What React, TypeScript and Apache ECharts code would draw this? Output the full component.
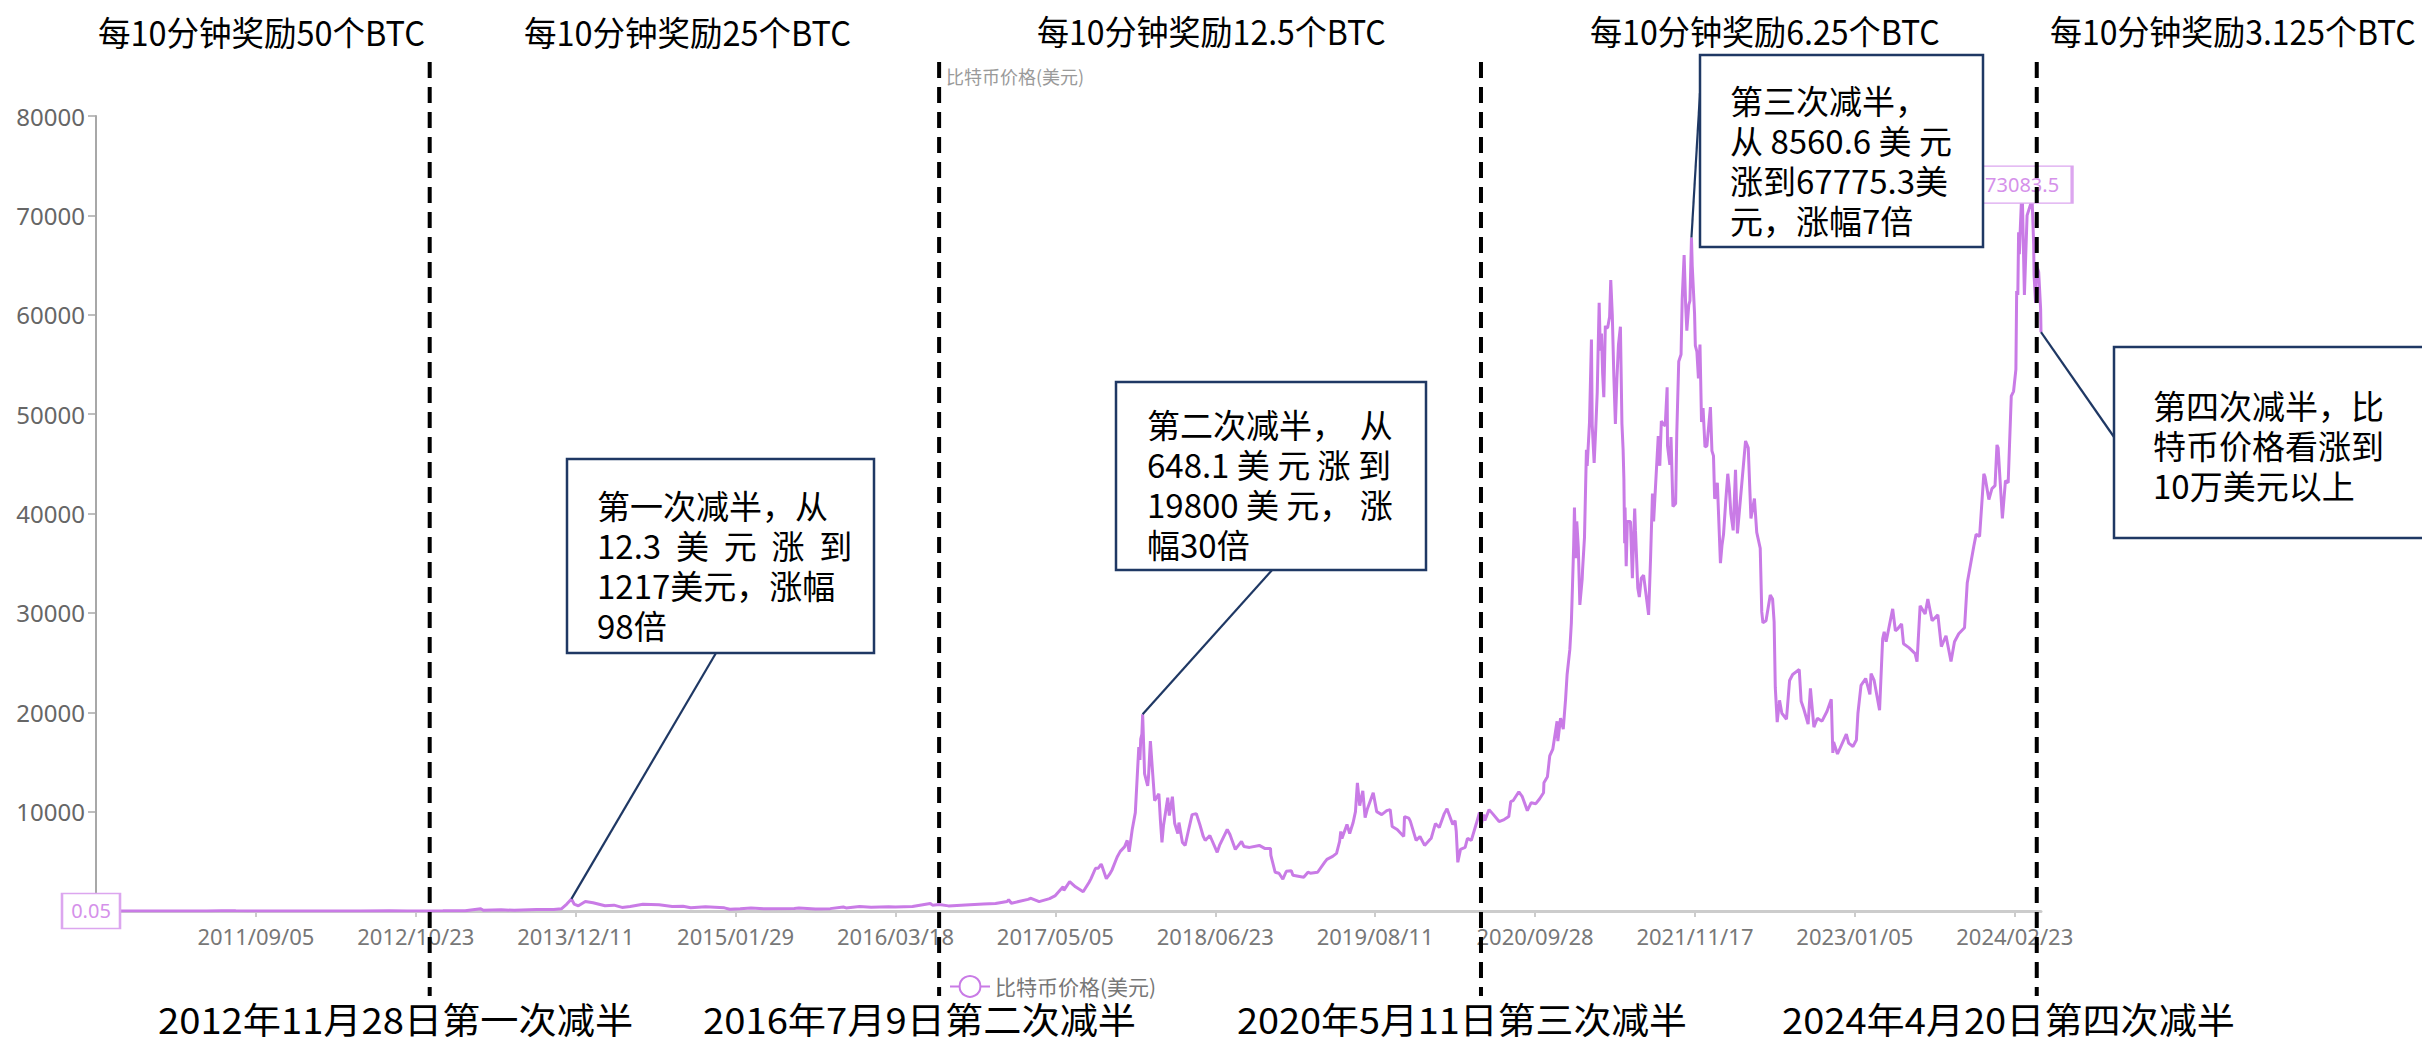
import React, { useEffect, useRef } from 'react';
import * as echarts from 'echarts';

// ---------- data ----------
const START_DATE = '2010/07/18';
const END_DATE = '2024/05/01';
const SERIES_NAME = '比特币价格(美元)';
// quirks of the source's daily date list (one day listed twice, one day absent)
const repeatedDays = ['2016/10/10'];
const skippedDays = ['2021/03/28'];

const prices2010to2013: [string, number][] = [
  ['2010/07/18', 0.05], ['2010/09/15', 0.06], ['2010/11/06', 0.39], ['2010/12/31', 0.3],
  ['2011/02/10', 1.05], ['2011/04/30', 3.5], ['2011/06/08', 29.6], ['2011/07/15', 13.8],
  ['2011/08/20', 11], ['2011/10/20', 2.3], ['2011/11/18', 2.1], ['2012/01/08', 7.1],
  ['2012/03/01', 4.9], ['2012/06/01', 5.3], ['2012/08/16', 13.5], ['2012/10/01', 12.4],
  ['2012/11/28', 12.3], ['2013/01/01', 13.5], ['2013/02/28', 33], ['2013/04/09', 230],
  ['2013/04/16', 68], ['2013/06/01', 129], ['2013/07/05', 68], ['2013/09/01', 145],
  ['2013/10/15', 150], ['2013/11/04', 225], ['2013/11/18', 703], ['2013/11/30', 1217],
  ['2013/12/07', 700], ['2013/12/18', 520],
];

const prices2014to2016: [string, number][] = [
  ['2014/01/05', 950], ['2014/01/25', 830], ['2014/02/25', 530], ['2014/03/20', 590],
  ['2014/04/10', 360], ['2014/05/01', 450], ['2014/06/03', 670], ['2014/07/15', 620],
  ['2014/08/18', 460], ['2014/09/15', 475], ['2014/10/05', 320], ['2014/11/12', 425],
  ['2014/12/31', 315], ['2015/01/14', 175], ['2015/02/10', 220], ['2015/03/10', 290],
  ['2015/04/14', 220], ['2015/06/30', 260], ['2015/07/12', 310], ['2015/08/24', 210],
  ['2015/10/01', 238], ['2015/11/04', 400], ['2015/11/11', 310], ['2015/12/16', 455],
  ['2016/01/15', 375], ['2016/02/29', 437], ['2016/03/18', 410], ['2016/05/01', 450],
  ['2016/06/16', 760], ['2016/06/22', 590], ['2016/07/09', 648.1], ['2016/08/02', 515],
  ['2016/09/15', 608], ['2016/10/31', 700], ['2016/12/01', 753], ['2016/12/31', 960],
];

const prices2017to2019: [string, number][] = [
  ['2017/01/04', 1130], ['2017/01/11', 780], ['2017/02/23', 1170], ['2017/03/03', 1280],
  ['2017/03/24', 940], ['2017/04/20', 1240], ['2017/05/05', 1550], ['2017/05/25', 2450],
  ['2017/05/27', 2080], ['2017/06/11', 2950], ['2017/06/26', 2430], ['2017/07/16', 1930],
  ['2017/07/31', 2870], ['2017/08/05', 3230], ['2017/08/17', 4300], ['2017/08/24', 4300],
  ['2017/08/31', 4700], ['2017/09/02', 4600], ['2017/09/14', 3250], ['2017/09/22', 3680],
  ['2017/09/29', 4160], ['2017/10/12', 5430], ['2017/10/20', 6000], ['2017/10/31', 6450],
  ['2017/11/07', 7100], ['2017/11/12', 5950], ['2017/11/20', 8200], ['2017/11/28', 9900],
  ['2017/12/07', 16500], ['2017/12/10', 15200], ['2017/12/12', 17300], ['2017/12/15', 17800],
  ['2017/12/17', 19800], ['2017/12/22', 13800], ['2017/12/30', 12600], ['2018/01/01', 13400],
  ['2018/01/06', 17100], ['2018/01/10', 14900], ['2018/01/17', 11100], ['2018/01/28', 11800],
  ['2018/02/01', 9100], ['2018/02/05', 6900], ['2018/02/09', 8600], ['2018/02/20', 11400],
  ['2018/02/24', 9600], ['2018/03/04', 11500], ['2018/03/10', 8800], ['2018/03/18', 7800],
  ['2018/03/21', 8900], ['2018/03/30', 6900], ['2018/04/06', 6600], ['2018/04/14', 8000],
  ['2018/04/24', 9700], ['2018/05/05', 9800], ['2018/05/14', 8700], ['2018/05/23', 7500],
  ['2018/05/28', 7100], ['2018/06/09', 7600], ['2018/06/28', 5900], ['2018/07/04', 6600],
  ['2018/07/24', 8200], ['2018/07/31', 7700], ['2018/08/14', 6200], ['2018/08/30', 7000],
  ['2018/09/05', 6500], ['2018/09/20', 6400], ['2018/10/15', 6600], ['2018/10/29', 6300],
  ['2018/11/13', 6300], ['2018/11/14', 5600], ['2018/11/25', 3900], ['2018/12/05', 3800],
  ['2018/12/15', 3200], ['2018/12/24', 4000], ['2019/01/06', 4050], ['2019/01/10', 3600],
  ['2019/02/07', 3400], ['2019/02/18', 3900], ['2019/02/24', 3800], ['2019/03/15', 3900],
  ['2019/04/02', 4900], ['2019/04/08', 5200], ['2019/04/23', 5500], ['2019/05/03', 5800],
  ['2019/05/11', 7000], ['2019/05/14', 8000], ['2019/05/17', 7300], ['2019/05/30', 8700],
  ['2019/06/06', 7800], ['2019/06/15', 8900], ['2019/06/21', 10000], ['2019/06/26', 12900],
  ['2019/07/02', 10600], ['2019/07/10', 12100], ['2019/07/16', 9400], ['2019/07/22', 10300],
  ['2019/08/06', 11900], ['2019/08/15', 10000], ['2019/08/28', 9700], ['2019/09/10', 10100],
  ['2019/09/19', 10200], ['2019/09/24', 8500], ['2019/10/07', 8200], ['2019/10/24', 7500],
  ['2019/10/26', 9500], ['2019/11/06', 9350], ['2019/11/10', 9050], ['2019/11/25', 7100],
  ['2019/12/05', 7500], ['2019/12/17', 6600], ['2019/12/31', 7200],
];

const prices2020to2021: [string, number][] = [
  ['2020/01/03', 7300], ['2020/01/14', 8800], ['2020/01/24', 8400], ['2020/02/06', 9800],
  ['2020/02/13', 10300], ['2020/02/28', 8700], ['2020/03/05', 9100], ['2020/03/08', 8000],
  ['2020/03/12', 4900], ['2020/03/19', 6200], ['2020/03/31', 6400], ['2020/04/06', 7300],
  ['2020/04/16', 7100], ['2020/04/29', 8800], ['2020/05/07', 9900], ['2020/05/09', 9800],
  ['2020/05/11', 8560.6], ['2020/05/18', 9700], ['2020/05/21', 9100], ['2020/06/01', 10200],
  ['2020/06/10', 9800], ['2020/06/27', 9000], ['2020/07/10', 9200], ['2020/07/22', 9500],
  ['2020/07/27', 11000], ['2020/08/02', 11100], ['2020/08/17', 12000], ['2020/08/26', 11500],
  ['2020/09/08', 10100], ['2020/09/18', 10900], ['2020/09/30', 10800], ['2020/10/10', 11300],
  ['2020/10/20', 11900], ['2020/10/21', 12900], ['2020/10/30', 13500], ['2020/11/05', 15600],
  ['2020/11/13', 16300], ['2020/11/24', 19100], ['2020/11/26', 17100], ['2020/12/03', 19400],
  ['2020/12/10', 18300], ['2020/12/16', 21300], ['2020/12/20', 23800], ['2020/12/27', 26300],
  ['2020/12/31', 29000], ['2021/01/03', 32800], ['2021/01/06', 36800], ['2021/01/08', 40600],
  ['2021/01/11', 35500], ['2021/01/14', 39200], ['2021/01/18', 36600], ['2021/01/22', 30800],
  ['2021/01/28', 33400], ['2021/01/29', 34300], ['2021/02/03', 37600], ['2021/02/08', 46400],
  ['2021/02/10', 44800], ['2021/02/16', 49200], ['2021/02/21', 57500], ['2021/02/23', 48900],
  ['2021/02/28', 45100], ['2021/03/04', 48400], ['2021/03/08', 52200], ['2021/03/10', 55900],
  ['2021/03/13', 61200], ['2021/03/16', 56400], ['2021/03/19', 58100], ['2021/03/22', 54100],
  ['2021/03/25', 51700], ['2021/03/30', 58900], ['2021/04/01', 58700], ['2021/04/05', 58700],
  ['2021/04/10', 59800], ['2021/04/13', 63500], ['2021/04/17', 60000], ['2021/04/21', 53800],
  ['2021/04/25', 49000], ['2021/04/29', 53600], ['2021/05/03', 57000], ['2021/05/08', 58800],
  ['2021/05/12', 49000], ['2021/05/15', 46400], ['2021/05/17', 43500], ['2021/05/19', 37000],
  ['2021/05/20', 40600], ['2021/05/23', 34700], ['2021/05/26', 39200], ['2021/06/03', 39200],
  ['2021/06/08', 33500], ['2021/06/11', 37300], ['2021/06/14', 40500], ['2021/06/16', 38300],
  ['2021/06/22', 32500], ['2021/06/26', 31600], ['2021/07/01', 33500], ['2021/07/07', 33800],
  ['2021/07/20', 29800], ['2021/07/25', 35400], ['2021/07/30', 42000], ['2021/08/02', 39200],
  ['2021/08/14', 47800], ['2021/08/18', 44800], ['2021/08/22', 49300], ['2021/08/27', 49000],
  ['2021/09/01', 48800], ['2021/09/06', 52700], ['2021/09/07', 46800], ['2021/09/13', 44900],
  ['2021/09/16', 47700], ['2021/09/21', 40700], ['2021/09/28', 41000], ['2021/10/01', 48100],
  ['2021/10/06', 55300], ['2021/10/12', 56000], ['2021/10/15', 61600], ['2021/10/20', 66000],
  ['2021/10/24', 60900], ['2021/10/27', 58400], ['2021/11/01', 61000], ['2021/11/04', 61400],
  ['2021/11/08', 67775.3], ['2021/11/10', 64900], ['2021/11/16', 60100], ['2021/11/18', 56900],
  ['2021/11/22', 56300], ['2021/11/26', 53600], ['2021/11/30', 57000], ['2021/12/04', 49200],
  ['2021/12/08', 50600], ['2021/12/13', 46700], ['2021/12/18', 46800], ['2021/12/27', 50700],
  ['2021/12/31', 46300],
];

const prices2022to2024: [string, number][] = [
  ['2022/01/04', 45800], ['2022/01/07', 41500], ['2022/01/10', 41800], ['2022/01/14', 43100],
  ['2022/01/22', 35000], ['2022/01/26', 36800], ['2022/01/30', 37900], ['2022/02/05', 41400],
  ['2022/02/10', 44000], ['2022/02/14', 42500], ['2022/02/18', 40000], ['2022/02/24', 38300],
  ['2022/03/02', 44400], ['2022/03/07', 38000], ['2022/03/28', 47300], ['2022/04/04', 46600],
  ['2022/04/11', 39500], ['2022/04/20', 41500], ['2022/04/26', 38100], ['2022/05/05', 36500],
  ['2022/05/09', 30100], ['2022/05/12', 29000], ['2022/05/20', 29200], ['2022/05/31', 31800],
  ['2022/06/06', 31400], ['2022/06/10', 29100], ['2022/06/13', 22500], ['2022/06/18', 19000],
  ['2022/06/24', 21200], ['2022/06/30', 19900], ['2022/07/12', 19300], ['2022/07/20', 23200],
  ['2022/07/28', 23800], ['2022/08/14', 24300], ['2022/08/19', 21100], ['2022/08/26', 20300],
  ['2022/09/06', 18800], ['2022/09/12', 22400], ['2022/09/21', 18500], ['2022/09/30', 19400],
  ['2022/10/12', 19100], ['2022/10/25', 20100], ['2022/11/05', 21300], ['2022/11/09', 15900],
  ['2022/11/11', 17000], ['2022/11/21', 15800], ['2022/12/14', 17800], ['2022/12/20', 16900],
  ['2022/12/31', 16550], ['2023/01/09', 17200], ['2023/01/13', 19900], ['2023/01/21', 22700],
  ['2023/02/02', 23400], ['2023/02/13', 21800], ['2023/02/16', 23900], ['2023/02/24', 23200],
  ['2023/03/10', 20200], ['2023/03/18', 27400], ['2023/03/22', 28100], ['2023/03/27', 27100],
  ['2023/04/13', 30400], ['2023/04/20', 28200], ['2023/04/26', 28400], ['2023/05/06', 28900],
  ['2023/05/11', 26900], ['2023/05/25', 26500], ['2023/06/10', 25900], ['2023/06/15', 25100],
  ['2023/06/23', 30700], ['2023/07/06', 29900], ['2023/07/13', 31400], ['2023/07/24', 29200],
  ['2023/08/08', 29800], ['2023/08/17', 26600], ['2023/08/29', 27700], ['2023/09/11', 25100],
  ['2023/09/20', 27100], ['2023/10/01', 27900], ['2023/10/16', 28500], ['2023/10/23', 33000],
  ['2023/11/09', 36700], ['2023/11/15', 37900], ['2023/11/24', 37700], ['2023/12/05', 44000],
  ['2023/12/08', 43700], ['2023/12/18', 41400], ['2023/12/26', 42500], ['2024/01/03', 42800],
  ['2024/01/08', 46900], ['2024/01/11', 46600], ['2024/01/22', 39500], ['2024/01/30', 43300],
  ['2024/02/06', 43100], ['2024/02/14', 51800], ['2024/02/20', 52300], ['2024/02/26', 54500],
  ['2024/02/28', 62400], ['2024/03/02', 62000], ['2024/03/04', 68300], ['2024/03/06', 66100],
  ['2024/03/08', 68300], ['2024/03/13', 73083.5], ['2024/03/19', 62000], ['2024/03/26', 70000],
  ['2024/04/08', 71600], ['2024/04/12', 67100], ['2024/04/13', 64000], ['2024/04/17', 61200],
  ['2024/04/20', 64900], ['2024/04/25', 64300], ['2024/04/30', 60600], ['2024/05/01', 58250],
];

const Y_MIN = 0;
const Y_MAX = 80000;
const Y_INTERVAL = 10000;
const X_LABEL_STEP = 414; // categories between x-axis labels

const halvingDates = ['2012/11/28', '2016/07/09', '2020/05/11', '2024/04/20'];
const halvingLabels = ['2012年11月28日第一次减半', '2016年7月9日第二次减半', '2020年5月11日第三次减半', '2024年4月20日第四次减半'];
const rewardLabels = ['每10分钟奖励50个BTC', '每10分钟奖励25个BTC', '每10分钟奖励12.5个BTC', '每10分钟奖励6.25个BTC', '每10分钟奖励3.125个BTC'];

const calloutLines: string[][] = [
  ['第一次减半，从', '12.3 美 元 涨 到', '1217美元，涨幅', '98倍'],
  ['第二次减半， 从', '648.1 美 元 涨 到', '19800 美 元， 涨', '幅30倍'],
  ['第三次减半，', '从 8560.6 美 元', '涨到67775.3美', '元，涨幅7倍'],
  ['第四次减半，比', '特币价格看涨到', '10万美元以上'],
];
const calloutAnchorDates = ['2013/11/30', '2017/12/17', '2021/11/08', '2024/05/01'];

// ---------- layout (annotation positions / styles) ----------
const CJK = '"Noto Sans CJK SC", "Noto Sans", sans-serif';
const LINE_COLOR = '#c97be6';
const BOX_COLOR = '#1f3864';
const CALLOUT_FONT = 33;
const CALLOUT_LINE_GAP = 40;
const rewardPos = [[98, 425], [524, 851], [1037, 1386], [1590, 1940], [2050, 2416]];
const halvingTextPos = [[158, 633], [703, 1136], [1237, 1687], [1782, 2235]];
const boxes = [
  { x: 567, y: 459, w: 307, h: 194, tx: 597, ty0: 505, tw: [244, 244, 244, 244], lx: 716, ly: 653 },
  { x: 1116, y: 382, w: 310, h: 188, tx: 1147, ty0: 424, tw: [249, 249, 249, 249], lx: 1273, ly: 569 },
  { x: 1700, y: 55, w: 283, h: 192, tx: 1730, ty0: 100, tw: [200, 220, 220, 220], lx: 1700, ly: 93 },
  { x: 2114, y: 347, w: 320, h: 191, tx: 2153, ty0: 405, tw: [232, 232, 232], lx: 2114, ly: 437 },
];

// ---------- helpers ----------
function parseDay(s: string) {
  const [y, m, d] = s.split('/').map(Number);
  return Date.UTC(y, m - 1, d);
}
function fmtDay(t: number) {
  const d = new Date(t);
  return `${d.getUTCFullYear()}/${String(d.getUTCMonth() + 1).padStart(2, '0')}/${String(d.getUTCDate()).padStart(2, '0')}`;
}
function buildDays(a: string, b: string) {
  const out: string[] = [];
  const end = parseDay(b);
  for (let t = parseDay(a); t <= end; t += 86400000) {
    const s = fmtDay(t);
    if (skippedDays.includes(s)) continue;
    out.push(s);
    if (repeatedDays.includes(s)) out.push(s);
  }
  return out;
}
let measureCtx: CanvasRenderingContext2D | null = null;
function textWidth(text: string, size: number) {
  if (!measureCtx) measureCtx = document.createElement('canvas').getContext('2d');
  if (!measureCtx) return text.length * size * 0.8;
  measureCtx.font = `${size}px ${CJK}`;
  return measureCtx.measureText(text).width;
}

const categories = buildDays(START_DATE, END_DATE);
const allPrices = [...prices2010to2013, ...prices2014to2016, ...prices2017to2019, ...prices2020to2021, ...prices2022to2024];
const priceMap = new Map<string, number>(allPrices);
const seen = new Set<string>();
const seriesData = categories.map((d) => {
  if (seen.has(d)) return null;
  seen.add(d);
  return priceMap.has(d) ? (priceMap.get(d) as number) : null;
});

function textEl(text: string, x: number, y: number, size: number, scaleX = 1, fill = '#000') {
  return {
    type: 'text', x, y, scaleX, z: 120, silent: true,
    style: { text, fill, fontSize: size, fontFamily: CJK, textAlign: 'left', textVerticalAlign: 'middle', verticalAlign: 'middle' },
  };
}

function fittedText(text: string, x0: number, x1: number, y: number, size: number) {
  const w = textWidth(text, size);
  let s = (x1 - x0) / w;
  s = Math.max(0.8, Math.min(1.2, s));
  return textEl(text, x0, y, size, s);
}

// one text per line; gaps between words widened with extra spaces to approximate justification
function calloutLine(line: string, x: number, y: number, width: number, size: number) {
  const tokens = line.split(' ');
  if (tokens.length < 2) return textEl(line, x, y, size);
  const spaceW = Math.max(1, textWidth(' ', size));
  const total = tokens.reduce((a, t) => a + textWidth(t, size), 0);
  const gap = (width - total) / (tokens.length - 1);
  const n = Math.max(1, Math.round(gap / spaceW));
  return textEl(tokens.join(' '.repeat(n)), x, y, size);
}

export default function App() {
  const ref = useRef<HTMLDivElement>(null);
  useEffect(() => {
    if (!ref.current) return;
    const chart = echarts.init(ref.current, null, { renderer: 'svg' });
    const showLabel = (index: number) => index > 0 && index % X_LABEL_STEP === 0;
    chart.setOption({
      animation: false,
      backgroundColor: '#fff',
      title: {
        text: SERIES_NAME, left: 941, top: 62,
        textStyle: { fontSize: 18, fontWeight: 'normal', color: '#9a9a9a', fontFamily: CJK },
      },
      legend: {
        data: [SERIES_NAME], left: 944, top: 970, itemWidth: 40, itemHeight: 26, itemGap: 10,
        textStyle: { fontSize: 21, color: '#777', fontFamily: CJK },
      },
      grid: { left: 96, right: 381, top: 116, bottom: 132, containLabel: false },
      xAxis: {
        type: 'category', data: categories, boundaryGap: false,
        axisLine: { lineStyle: { color: '#cccccc', width: 3 } },
        axisTick: { show: true, interval: showLabel, length: 6, lineStyle: { color: '#cccccc', width: 2 } },
        axisLabel: { interval: showLabel, fontSize: 22, color: '#777', fontFamily: '"Noto Sans", sans-serif', margin: 14 },
        splitLine: { show: false },
      },
      yAxis: {
        type: 'value', min: Y_MIN, max: Y_MAX, interval: Y_INTERVAL,
        axisLine: { show: true, lineStyle: { color: '#a8a8a8', width: 2 } },
        axisTick: { show: true, length: 8, lineStyle: { color: '#a8a8a8', width: 1.5 } },
        axisLabel: {
          fontSize: 24, color: '#666', fontFamily: '"Noto Sans", sans-serif', margin: 11,
          showMinLabel: false, formatter: (v: number) => String(v),
        },
        splitLine: { show: false },
      },
      series: [
        {
          name: SERIES_NAME, type: 'line', data: seriesData, connectNulls: true,
          showSymbol: false, symbol: 'emptyCircle', symbolSize: 10,
          lineStyle: { color: LINE_COLOR, width: 3 },
          itemStyle: { color: LINE_COLOR },
          markPoint: {
            symbol: 'rect',
            itemStyle: { color: '#ffffff', borderColor: '#dca6ef', borderWidth: 2 },
            label: { show: true, position: 'inside', color: '#d591ea', fontSize: 20, fontFamily: '"Noto Sans", sans-serif', formatter: (p: any) => String(p.value) },
            data: [
              { type: 'min', name: 'min', symbolSize: [58, 35], symbolOffset: [-5, 0] },
              { type: 'max', name: 'max', symbolSize: [100, 37] },
            ],
          },
        },
      ],
    });

    const px = (date: string, v: number) => {
      const idx = categories.indexOf(date);
      return chart.convertToPixel({ gridIndex: 0 }, [idx, v]) as number[];
    };

    const elements: any[] = [];
    halvingDates.forEach((d) => {
      const [x] = px(d, 0);
      elements.push({
        type: 'line', z: 110, silent: true,
        shape: { x1: x, y1: 62, x2: x, y2: 996 },
        style: { stroke: '#000', lineWidth: 4, lineDash: [16, 9] },
      });
    });
    rewardLabels.forEach((t, i) => elements.push(fittedText(t, rewardPos[i][0], rewardPos[i][1], 31, 34)));
    halvingLabels.forEach((t, i) => elements.push(fittedText(t, halvingTextPos[i][0], halvingTextPos[i][1], 1018, 36)));
    boxes.forEach((b, i) => {
      const d = calloutAnchorDates[i];
      const [ax, ay] = px(d, priceMap.get(d) as number);
      elements.push({
        type: 'line', z: 112, silent: true,
        shape: { x1: b.lx, y1: b.ly, x2: ax, y2: ay },
        style: { stroke: BOX_COLOR, lineWidth: 2.2 },
      });
      elements.push({
        type: 'rect', z: 114, silent: true,
        shape: { x: b.x, y: b.y, width: b.w, height: b.h },
        style: { fill: '#ffffff', stroke: BOX_COLOR, lineWidth: 2.5 },
      });
      calloutLines[i].forEach((line, j) => {
        elements.push(calloutLine(line, b.tx, b.ty0 + j * CALLOUT_LINE_GAP, b.tw[j], CALLOUT_FONT));
      });
    });
    chart.setOption({ graphic: { elements } });

    return () => chart.dispose();
  }, []);
  return <div ref={ref} style={{ position: 'fixed', left: 0, top: 0, width: 2422, height: 1043, background: '#fff' }} />;
}
